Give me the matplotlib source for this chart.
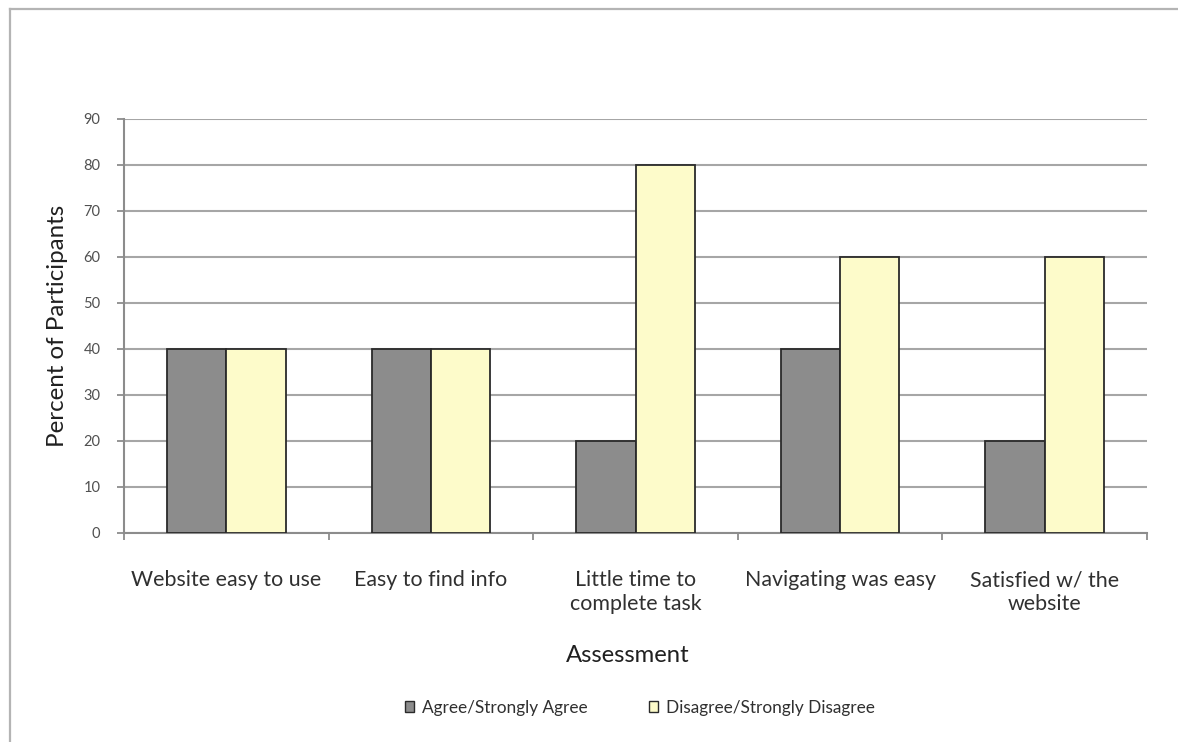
import matplotlib.pyplot as plt
import numpy as np
from matplotlib.lines import Line2D
from matplotlib.patches import Patch

categories = ["Website easy to use", "Easy to find info", "Little time to\ncomplete task",
              "Navigating was easy", "Satisfied w/ the\nwebsite"]
agree = [40, 40, 20, 40, 20]
disagree = [40, 40, 80, 60, 60]
series_names = ["Agree/Strongly Agree", "Disagree/Strongly Disagree"]
yticks = list(range(0, 100, 10))

plt.rcParams['font.family'] = ['Lato', 'DejaVu Sans']

W, H = 1178, 742
fig = plt.figure(figsize=(W / 100, H / 100), dpi=100)
fig.patch.set_facecolor('white')

# outer chart frame (top and left edges visible)
frame_col = '#b4b4b4'
fig.add_artist(Line2D([10 / W, 1.0], [1 - 9 / H, 1 - 9 / H], color=frame_col, lw=1.6,
                      transform=fig.transFigure))
fig.add_artist(Line2D([10 / W, 10 / W], [0, 1 - 9 / H], color=frame_col, lw=1.6,
                      transform=fig.transFigure))

ax = fig.add_axes([124 / W, 1 - 533 / H, (1147 - 124) / W, (533 - 119) / H])

x = np.arange(len(categories))
bw = 0.29
gray = '#8c8c8c'
yellow = '#fdfbca'
edge = '#2a2a2a'

ax.set_axisbelow(True)
ax.yaxis.grid(True, color='#a6a6a6', lw=1.5)
ax.bar(x - bw / 2, agree, width=bw, color=gray, edgecolor=edge, lw=1.3, zorder=3)
ax.bar(x + bw / 2, disagree, width=bw, color=yellow, edgecolor=edge, lw=1.3, zorder=3)

ax.set_xlim(-0.5, len(categories) - 0.5)
ax.set_ylim(0, 90)
ax.set_yticks(yticks)
ax.set_yticklabels([str(v) for v in yticks], fontsize=10.5, color='#505050')

# category labels between boundary ticks
ax.set_xticks(np.arange(len(categories) + 1) - 0.5)
ax.set_xticklabels([])
ax.set_xticks(x, minor=True)
ax.set_xticklabels(categories, minor=True, fontsize=15.4, color='#303030',
                   linespacing=1.2, va='top')
ax.tick_params(axis='x', which='minor', length=0, pad=27)
ax.tick_params(axis='x', which='major', length=5, color='#8c8c8c', width=1.3)
ax.tick_params(axis='y', length=5, color='#8c8c8c', width=1.3, pad=12)

for s in ['top', 'right']:
    ax.spines[s].set_visible(False)
for s in ['left', 'bottom']:
    ax.spines[s].set_color('#8c8c8c')
    ax.spines[s].set_linewidth(1.5)

ax.set_ylabel("Percent of Participants", fontsize=17.4, color='#202020')
ax.yaxis.label.set_va('center')
ax.yaxis.set_label_coords((58 - 124) / 1023, 0.5)
ax.set_xlabel("Assessment", fontsize=17.2, color='#202020')
ax.xaxis.label.set_va('center')
ax.xaxis.set_label_coords((628 - 124) / 1023, (533 - 655) / 414)

handles = [Patch(facecolor=gray, edgecolor=edge, lw=1.0),
           Patch(facecolor=yellow, edgecolor=edge, lw=1.0)]
fig.legend(handles, series_names, loc='center', bbox_to_anchor=(640 / W, 1 - 708 / H),
           ncol=2, frameon=False, fontsize=12.4, handlelength=0.5, handleheight=0.6,
           handletextpad=0.45, columnspacing=3.6, labelcolor='#303030')

fig.savefig('out.png', dpi=100, facecolor='white')
